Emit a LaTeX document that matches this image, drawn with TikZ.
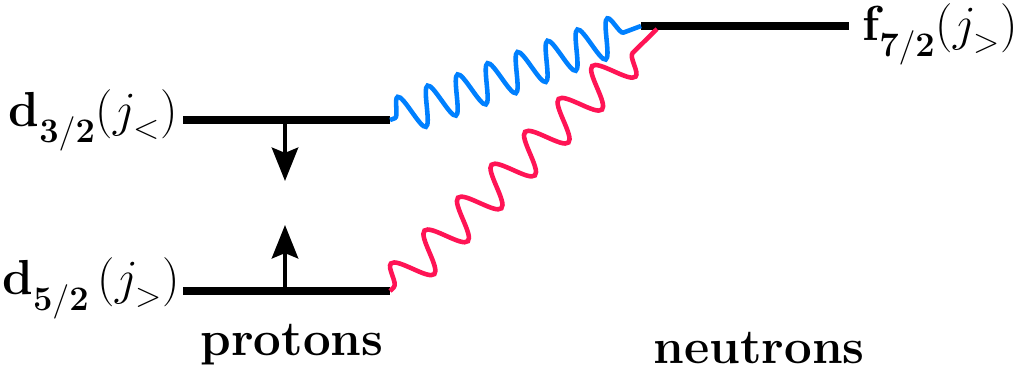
\RequirePackage{fix-cm}
\documentclass[tikz,border=0pt]{standalone}
\usepackage{amsmath}
\usetikzlibrary{arrows.meta, decorations.pathmorphing}
\definecolor{wavered}{RGB}{255, 20, 85}
\definecolor{waveblue}{RGB}{0, 128, 255}
\newcommand{\lowsub}[2]{_{\lower#1\hbox{$\scriptstyle #2$}}}

\begin{document}
\begin{tikzpicture}[x=0.02cm, y=-0.02cm, >=Stealth,
    lbl/.style={font=\fontsize{28}{34}\selectfont, inner sep=0pt},
    level/.style={line width=5pt},
    spin/.style={line width=2.3pt, -{Stealth[length=19pt, width=15pt, inset=3pt]}},
    wave/.style={line width=2.6pt, decorate,
                 decoration={snake, segment length=#1, amplitude=0.38cm,
                             pre length=3pt, post length=8pt}}]
  \useasboundingbox (0, 0) rectangle (1015, 373);
  % levels
  \coordinate (d3l) at (183, 120); \coordinate (d3r) at (390, 120);
  \coordinate (d5l) at (183, 291); \coordinate (d5r) at (390, 291);
  \coordinate (f7l) at (641, 26);  \coordinate (f7r) at (849, 26);
  \coordinate (f7in) at (657, 29);
  \draw[level] (d3l) -- (d3r);
  \draw[level] (d5l) -- (d5r);
  \draw[level] (f7l) -- (f7r);
  % spins
  \coordinate (d3m) at (285, 120); \coordinate (dn) at (285, 181);
  \coordinate (d5m) at (285, 291); \coordinate (up) at (285, 225);
  \draw[spin] (d3m) -- (dn);
  \draw[spin] (d5m) -- (up);
  % interactions
  \draw[wave=0.64cm, waveblue] (d3r) -- (f7l);
  \draw[wave=0.94cm, wavered] (d5r) -- (f7in);
  % labels
  \node[lbl, anchor=base east] (d3) at (178, 126)
        {$\mathbf{d}\lowsub{5pt}{\mathbf{3/2}}(j\lowsub{3pt}{<})$};
  \node[lbl, anchor=base east] (d5) at (180, 294)
        {$\mathbf{d}\lowsub{5pt}{\mathbf{5/2}}\,(j\lowsub{3pt}{>})$};
  \node[lbl, anchor=base west] (f7) at (862, 40)
        {$\mathbf{f}\lowsub{5pt}{\mathbf{7/2}}(j\lowsub{3pt}{>})$};
  \node[lbl, anchor=base] (prot) at (292, 355) {\textbf{protons}};
  \node[lbl, anchor=base] (neut) at (759, 363) {\textbf{neutrons}};
\end{tikzpicture}
\end{document}
